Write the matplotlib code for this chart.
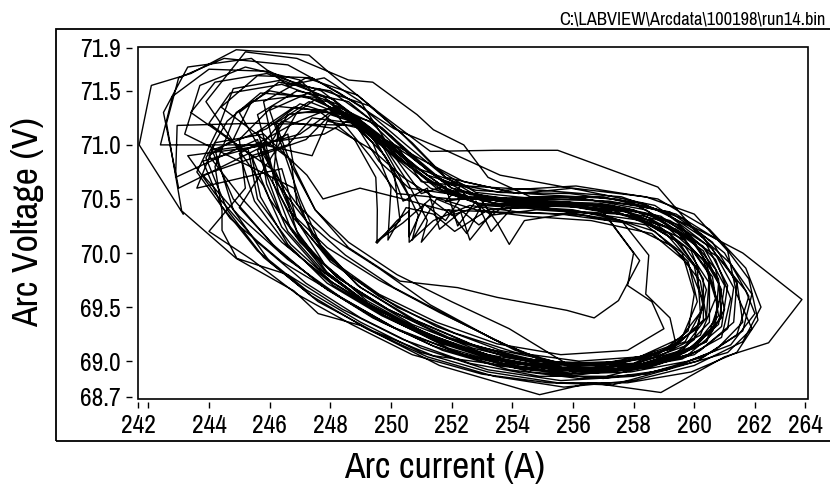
import matplotlib
matplotlib.use("Agg")
import matplotlib.pyplot as plt
from matplotlib.patches import Rectangle
from matplotlib.ticker import FixedLocator, FixedFormatter

plt.rcParams["font.family"] = ["Pragati Narrow", "Liberation Sans", "DejaVu Sans"]

# Arc current (A) / arc voltage (V) trajectory.
current_1 = [
    243.15, 241.70, 242.10, 243.40, 244.90, 247.30, 248.00, 249.60, 251.30, 253.40, 255.50, 258.80, 259.90, 261.60, 263.55, 262.45, 261.00, 258.90, 256.60, 254.90, 251.60, 249.00, 247.60, 246.80, 244.90, 243.10,
    242.60, 243.00, 244.50, 246.60, 248.30, 250.10, 251.80, 253.60, 256.30, 258.70, 260.30, 261.40, 261.60, 260.70, 259.10, 257.00, 254.60, 252.30, 250.10, 248.30, 246.40, 244.70, 243.60,
    244.30, 244.80, 246.40, 248.10, 249.60, 250.90, 252.20, 254.40, 256.90, 258.90, 260.30, 260.90, 260.60, 259.50, 257.60, 255.50, 253.40, 251.30, 249.60, 248.00, 246.90, 246.00,
    245.60, 246.80, 248.40, 249.40, 250.00, 249.90, 250.50, 251.40, 252.10, 253.20, 255.40, 257.60, 259.20, 260.10, 260.20, 259.40, 257.80, 255.70, 253.60, 251.50, 249.60, 248.00, 246.90, 246.20,
]
voltage_1 = [
    70.36, 71.00, 71.55, 71.66, 71.88, 71.83, 71.66, 71.30, 70.94, 70.95, 70.95, 70.61, 70.25, 70.00, 69.57, 69.17, 69.04, 68.71, 68.80, 68.69, 68.96, 69.33, 69.44, 69.65, 69.95, 70.39,
    71.20, 71.62, 71.80, 71.74, 71.48, 71.15, 70.95, 70.72, 70.58, 70.44, 70.14, 69.74, 69.36, 69.10, 68.92, 68.84, 68.90, 69.07, 69.31, 69.60, 69.92, 70.32, 70.75,
    71.15, 71.52, 71.60, 71.42, 71.10, 70.78, 70.52, 70.46, 70.44, 70.30, 70.02, 69.66, 69.28, 69.05, 68.93, 68.94, 69.20, 69.52, 69.86, 70.15, 70.45, 70.80,
    71.12, 71.35, 71.28, 71.02, 70.60, 70.12, 70.42, 70.36, 70.20, 70.40, 70.44, 70.40, 70.18, 69.86, 69.45, 69.16, 69.00, 68.98, 69.10, 69.32, 69.60, 69.92, 70.30, 70.75,
]

current_2 = [
    243.40, 244.20, 245.90, 247.70, 249.20, 250.60, 251.90, 253.90, 256.40, 258.40, 259.90, 260.80, 260.90, 260.00, 258.30, 256.10, 253.90, 251.80, 249.80, 248.00, 246.40, 245.10, 244.00,
    244.80, 245.40, 247.10, 248.70, 250.10, 251.30, 252.70, 254.90, 257.00, 258.20, 257.50, 256.70, 255.80, 253.50, 252.20, 250.30, 248.60, 247.50, 246.70,
    246.20, 247.30, 248.90, 250.20, 251.50, 253.00, 255.30, 257.50, 259.40, 260.80, 261.70, 262.00, 261.20, 259.80, 257.90, 255.80, 253.70, 251.70, 249.70, 247.90, 246.60, 245.70, 245.40,
    246.60, 247.40, 248.80, 249.80, 250.60, 250.60, 251.10, 251.80, 252.40, 253.30, 254.80, 256.90, 258.70, 259.80, 260.10, 259.60, 258.20, 256.20, 254.10, 252.10, 250.20, 248.60, 247.40, 246.80,
]
voltage_2 = [
    71.30, 71.58, 71.66, 71.50, 71.18, 70.84, 70.58, 70.50, 70.50, 70.40, 70.12, 69.76, 69.40, 69.12, 68.98, 68.92, 69.00, 69.18, 69.44, 69.74, 70.10, 70.50, 70.90,
    71.05, 71.40, 71.46, 71.26, 70.95, 70.66, 70.50, 70.48, 70.38, 69.93, 69.56, 69.40, 69.47, 69.59, 69.68, 69.74, 70.05, 70.40, 70.82,
    71.20, 71.40, 71.22, 70.90, 70.60, 70.44, 70.40, 70.36, 70.22, 69.96, 69.65, 69.44, 69.15, 69.00, 68.90, 68.88, 68.98, 69.16, 69.42, 69.72, 70.08, 70.52, 70.90,
    71.00, 71.25, 71.20, 70.90, 70.52, 70.15, 70.45, 70.30, 70.55, 70.35, 70.40, 70.36, 70.20, 69.92, 69.55, 69.22, 69.04, 69.00, 69.08, 69.26, 69.50, 69.80, 70.16, 70.60,
]

current_3 = [
    243.20, 243.70, 245.20, 247.00, 248.20, 249.30, 250.20, 252.00, 255.70, 258.10, 259.70, 260.70, 261.00, 260.40, 258.90, 256.80, 254.60, 252.40, 250.30, 248.40, 246.60, 245.00, 243.80,
    247.20, 248.00, 249.10, 249.90, 250.40, 251.20, 251.60, 252.30, 252.60, 253.40, 255.20, 257.40, 259.10, 260.30, 260.70, 260.20, 258.80, 256.80, 254.70, 252.60, 250.60, 248.90, 247.70, 247.00,
    246.00, 247.60, 249.30, 250.70, 251.80, 253.00, 255.10, 257.30, 259.20, 260.60, 261.30, 261.10, 260.00, 258.20, 256.00, 253.80, 251.60, 249.60, 247.90, 246.60, 245.90, 245.60,
    242.90, 242.95, 245.50, 249.05, 250.60, 251.70, 253.60, 255.90, 258.30, 259.90, 261.20, 261.90, 261.60, 260.30, 258.40, 256.20, 253.90, 251.70, 249.70, 247.90, 246.30, 245.00,
]
voltage_3 = [
    71.10, 71.55, 71.72, 71.60, 71.28, 70.90, 70.55, 70.50, 70.52, 70.44, 70.20, 69.85, 69.48, 69.18, 69.00, 68.90, 68.92, 69.06, 69.28, 69.58, 69.94, 70.34, 70.72,
    71.05, 71.28, 71.18, 70.85, 70.48, 70.60, 70.22, 70.38, 70.12, 70.40, 70.46, 70.42, 70.24, 69.94, 69.58, 69.24, 69.04, 68.96, 69.00, 69.16, 69.40, 69.70, 70.06, 70.50,
    71.32, 71.52, 71.36, 71.02, 70.70, 70.50, 70.47, 70.44, 70.30, 70.04, 69.68, 69.30, 69.06, 68.94, 68.90, 69.15, 69.45, 69.75, 70.05, 70.40, 70.75, 71.05,
    70.70, 71.18, 71.20, 71.18, 70.90, 70.66, 70.56, 70.55, 70.46, 70.24, 69.90, 69.62, 69.28, 69.04, 68.88, 68.84, 68.92, 69.10, 69.36, 69.66, 70.02, 70.42,
]

current_4 = [
    246.20, 246.90, 248.50, 249.60, 250.30, 250.90, 250.70, 251.50, 252.20, 252.90, 253.80, 255.90, 258.00, 259.60, 260.50, 260.40, 259.30, 257.50, 255.30, 253.20, 251.10, 249.20, 247.60, 246.40, 245.80,
    243.90, 245.20, 246.90, 248.60, 249.40, 250.86, 251.40, 252.40, 253.20, 254.60, 257.00, 259.00, 260.40, 261.10, 260.90, 259.80, 257.90, 255.70, 253.50, 251.40, 249.40, 247.70, 246.10, 244.80, 244.10,
    245.90, 247.00, 248.60, 250.00, 251.30, 252.90, 255.10, 257.20, 258.00, 257.80, 258.60, 259.00, 257.80, 255.60, 253.50, 251.50, 249.60, 248.00, 246.80, 246.10,
    245.00, 246.30, 248.00, 249.50, 250.80, 252.00, 253.80, 256.20, 258.50, 260.00, 260.80, 260.70, 259.70, 257.90, 255.80, 253.70, 251.40, 249.40, 247.60, 246.00, 244.80, 244.20,
]
voltage_4 = [
    70.95, 71.30, 71.30, 71.05, 70.70, 70.35, 70.12, 70.50, 70.42, 70.26, 70.45, 70.47, 70.40, 70.16, 69.80, 69.40, 69.12, 68.98, 68.96, 69.06, 69.26, 69.54, 69.86, 70.24, 70.62,
    71.40, 71.86, 71.80, 71.60, 71.58, 71.28, 71.14, 71.00, 70.70, 70.52, 70.52, 70.38, 70.08, 69.70, 69.32, 69.06, 68.92, 68.88, 68.96, 69.14, 69.40, 69.70, 70.08, 70.50, 70.95,
    71.15, 71.38, 71.24, 70.92, 70.60, 70.46, 70.42, 70.30, 70.00, 69.70, 69.55, 69.30, 69.10, 69.06, 69.16, 69.36, 69.62, 69.94, 70.32, 70.76,
    71.30, 71.58, 71.50, 71.20, 70.86, 70.60, 70.48, 70.46, 70.36, 70.10, 69.72, 69.34, 69.08, 68.94, 68.92, 68.96, 69.05, 69.28, 69.55, 69.92, 70.40, 70.95,
]

current_5 = [
    247.80, 248.70, 249.70, 250.50, 251.20, 251.00, 251.90, 252.50, 253.10, 254.50, 256.60, 258.60, 259.90, 260.40, 260.10, 258.90, 257.00, 254.90, 252.80, 250.80, 249.00, 247.70, 246.90, 246.70,
    244.40, 245.60, 247.40, 249.00, 250.50, 251.80, 253.70, 256.10, 258.80, 260.50, 261.70, 262.20, 261.60, 260.00, 258.00, 255.70, 253.40, 251.20, 249.20, 247.40, 245.80, 244.60, 243.90,
    244.60, 245.70, 247.50, 249.00, 250.40, 251.70, 253.40, 255.80, 258.00, 259.70, 260.60, 260.80, 260.00, 258.40, 256.30, 254.10, 252.00, 250.10, 248.50, 247.20, 246.20, 245.80,
    247.40, 247.90, 249.20, 250.20, 251.00, 251.80, 252.20, 252.80, 253.30, 254.00, 255.90, 258.00, 259.50, 260.30, 260.30, 259.30, 257.60, 255.40, 253.20, 251.20, 249.30, 247.80, 246.70, 246.10,
]
voltage_5 = [
    71.10, 71.24, 71.02, 70.68, 70.30, 70.10, 70.40, 70.18, 70.50, 70.44, 70.42, 70.30, 70.02, 69.66, 69.30, 69.08, 68.98, 69.00, 69.14, 69.38, 69.68, 70.04, 70.46, 70.86,
    71.35, 71.64, 71.62, 71.36, 71.00, 70.70, 70.58, 70.62, 70.50, 70.22, 69.86, 69.50, 69.18, 68.96, 68.82, 68.76, 68.86, 69.04, 69.30, 69.60, 69.96, 70.40, 70.88,
    71.22, 71.48, 71.44, 71.16, 70.84, 70.58, 70.46, 70.44, 70.34, 70.12, 69.78, 69.42, 69.14, 68.98, 68.92, 69.10, 69.40, 69.68, 69.98, 70.30, 70.66, 71.00,
    70.90, 71.22, 71.14, 70.86, 70.55, 70.62, 70.25, 70.48, 70.20, 70.42, 70.44, 70.34, 70.10, 69.76, 69.38, 69.12, 68.98, 68.94, 69.04, 69.24, 69.52, 69.84, 70.22, 70.66,
]

current_6 = [
    246.30, 247.50, 248.70, 249.60, 250.60, 252.60, 255.40, 257.70, 259.50, 260.70, 261.20, 260.90, 259.60, 257.60, 255.40, 253.30, 251.30, 249.40, 247.80, 246.60, 245.90, 245.70,
    242.40, 242.80, 244.00, 246.00, 247.80, 249.40, 250.90, 252.50, 255.00, 257.60, 259.60, 261.00, 261.80, 261.40, 260.10, 258.00, 255.60, 253.20, 251.00, 249.00, 247.20, 245.60, 244.20, 243.30,
    246.00, 246.60, 248.20, 249.40, 250.10, 250.30, 249.50, 250.40, 251.30, 252.00, 253.00, 255.00, 257.30, 259.00, 260.00, 260.30, 259.70, 258.20, 256.20, 254.00, 251.90, 249.90, 248.20, 247.00, 246.30,
    245.60, 246.90, 248.60, 250.00, 251.30, 252.60, 254.60, 256.90, 258.90, 260.30, 261.00, 260.80, 259.80, 258.10, 256.00, 253.90, 252.00, 250.20, 248.60, 247.50, 246.80, 246.60,
]
voltage_6 = [
    71.18, 71.42, 71.25, 70.85, 70.60, 70.52, 70.48, 70.42, 70.26, 69.94, 69.58, 69.22, 69.02, 68.92, 68.92, 69.02, 69.22, 69.50, 69.82, 70.20, 70.64, 71.00,
    71.00, 71.45, 71.70, 71.68, 71.44, 71.10, 70.78, 70.62, 70.58, 70.52, 70.32, 70.00, 69.60, 69.24, 69.00, 68.86, 68.82, 68.92, 69.12, 69.40, 69.72, 70.10, 70.55, 70.90,
    71.00, 71.28, 71.34, 71.08, 70.75, 70.30, 70.10, 70.28, 70.50, 70.35, 70.44, 70.46, 70.40, 70.20, 69.88, 69.50, 69.18, 69.02, 68.96, 69.04, 69.22, 69.48, 69.78, 70.14, 70.56,
    71.28, 71.50, 71.40, 71.08, 70.74, 70.54, 70.48, 70.46, 70.34, 70.06, 69.70, 69.34, 69.10, 68.96, 68.94, 69.30, 69.55, 69.80, 70.10, 70.40, 70.80, 71.10,
]

current_7 = [
    243.00, 242.50, 243.30, 245.40, 246.60, 247.80, 249.00, 249.80, 251.10, 252.40, 254.20, 256.00, 258.40, 260.00, 261.10, 261.40, 261.90, 261.10, 259.60, 257.30, 255.20, 253.00, 250.70, 248.70, 246.90, 245.40, 244.00,
    245.20, 245.00, 246.10, 247.60, 248.80, 249.50, 249.55, 249.54, 250.20, 250.60, 250.60, 251.40, 252.60, 254.20, 256.40, 258.40, 259.60, 260.00, 259.80, 258.80, 257.00, 254.80, 252.70, 250.70, 249.00, 247.50, 246.40,
    245.60, 246.40, 248.20, 249.40, 250.40, 251.40, 252.80, 254.50, 256.60, 258.60, 259.80, 260.30, 260.00, 258.90, 257.10, 254.90, 252.60, 250.40, 248.40, 246.60, 244.92, 244.43, 244.43, 244.20,
    244.90, 246.00, 247.90, 249.40, 250.70, 252.00, 253.80, 256.00, 257.60, 258.50, 258.40, 259.20, 259.40, 258.00, 256.00, 253.80, 251.80, 249.90, 248.30, 247.00, 246.00, 245.40,
]
voltage_7 = [
    70.60, 71.30, 71.72, 71.80, 71.55, 71.62, 71.40, 71.05, 70.85, 70.66, 70.55, 70.60, 70.52, 70.36, 70.02, 69.62, 69.30, 69.08, 68.96, 68.78, 68.80, 68.88, 69.06, 69.34, 69.62, 69.94, 70.20,
    70.60, 71.05, 71.36, 71.32, 71.05, 70.70, 70.40, 70.09, 70.30, 70.39, 70.10, 70.30, 70.44, 70.38, 70.35, 70.26, 70.00, 69.62, 69.28, 69.06, 68.96, 68.98, 69.12, 69.34, 69.62, 69.96, 70.34,
    70.95, 71.22, 71.15, 70.95, 70.70, 70.52, 70.40, 70.34, 70.30, 70.18, 69.90, 69.55, 69.20, 68.98, 68.86, 68.86, 68.98, 69.20, 69.48, 69.80, 69.95, 70.21, 70.39, 70.80,
    71.30, 71.50, 71.40, 71.10, 70.78, 70.55, 70.44, 70.40, 70.30, 69.98, 69.62, 69.40, 69.15, 68.98, 68.96, 69.04, 69.22, 69.48, 69.76, 70.10, 70.50, 70.90,
]

current_8 = [
    244.00, 244.70, 246.40, 248.20, 249.80, 251.20, 252.80, 255.00, 257.40, 259.40, 260.90, 261.80, 262.10, 261.40, 259.90, 257.80, 255.50, 253.20, 251.00, 249.00, 247.20, 245.60, 244.40, 243.80,
    247.00, 248.10, 249.30, 250.30, 251.00, 252.30, 251.80, 252.90, 253.50, 253.90, 254.40, 256.20, 258.30, 259.70, 260.50, 260.50, 259.60, 257.80, 255.60, 253.40, 251.30, 249.40, 247.90, 246.90, 246.40,
    245.80, 247.20, 248.90, 250.30, 251.50, 252.80, 254.80, 257.20, 259.20, 260.60, 261.40, 261.30, 260.20, 258.50, 256.30, 254.10, 251.90, 249.90, 248.10, 246.60, 245.50, 245.00,
    246.80, 248.20, 249.70, 250.90, 252.00, 253.50, 255.60, 257.80, 259.40, 260.40, 260.80, 260.40, 259.10, 257.20, 255.10, 253.00, 251.00, 249.20, 247.80, 246.90, 246.40,
    243.60, 244.20, 245.80, 247.23, 247.76, 248.98, 250.40, 251.70, 253.40, 255.60, 257.70, 259.30, 260.20, 260.40, 259.70, 258.10, 256.10, 253.90, 251.80, 249.80, 248.10, 246.70, 245.60, 245.30,
]
voltage_8 = [
    71.20, 71.48, 71.56, 71.38, 71.04, 70.72, 70.58, 70.54, 70.50, 70.36, 70.10, 69.76, 69.38, 69.08, 68.90, 68.80, 68.80, 68.90, 69.08, 69.36, 69.66, 70.02, 70.44, 70.85,
    71.10, 71.32, 71.22, 70.95, 70.66, 70.62, 70.48, 70.52, 70.28, 70.08, 70.30, 70.38, 70.30, 70.06, 69.72, 69.36, 69.10, 68.96, 68.92, 69.02, 69.22, 69.50, 69.82, 70.20, 70.64,
    71.40, 71.62, 71.46, 71.12, 70.78, 70.56, 70.50, 70.48, 70.38, 70.10, 69.72, 69.36, 69.10, 68.94, 68.88, 68.94, 69.12, 69.40, 69.70, 70.06, 70.48, 70.92,
    71.20, 71.36, 71.16, 70.86, 70.60, 70.48, 70.44, 70.38, 70.20, 69.90, 69.52, 69.18, 69.00, 68.92, 68.94, 69.06, 69.28, 69.56, 69.90, 70.30, 70.78,
    70.60, 71.02, 71.10, 70.72, 70.50, 70.60, 70.50, 70.40, 70.38, 70.36, 70.28, 70.06, 69.74, 69.40, 69.14, 68.98, 68.92, 68.98, 69.16, 69.42, 69.72, 70.08, 70.50, 70.95,
]

x_ticks = [241.66, 242, 244, 246, 248, 250, 252, 254, 256, 258, 260, 262, 263.65]
x_tick_labels = ["242", "", "244", "246", "248", "250", "252", "254", "256", "258", "260", "262", "264"]
y_ticks = [68.67, 69.0, 69.5, 70.0, 70.5, 71.0, 71.5, 71.9]
y_tick_labels = ["68.7", "69.0", "69.5", "70.0", "70.5", "71.0", "71.5", "71.9"]
file_name = r"C:\LABVIEW\Arcdata\100198\run14.bin"

current = current_1 + current_2 + current_3 + current_4 + current_5 + current_6 + current_7 + current_8
voltage = voltage_1 + voltage_2 + voltage_3 + voltage_4 + voltage_5 + voltage_6 + voltage_7 + voltage_8
assert len(current) == len(voltage)

W, H = 830, 487
fig = plt.figure(figsize=(W / 100, H / 100), dpi=100)
ax = fig.add_axes([138 / W, 1 - 399 / H, (808 - 138) / W, (399 - 46.5) / H])
ax.plot(current, voltage, color="black", linewidth=1.0)
ax.set_xlim(241.66, 263.75)
ax.set_ylim(68.65, 71.91)

ax.xaxis.set_major_locator(FixedLocator(x_ticks))
ax.xaxis.set_major_formatter(FixedFormatter(x_tick_labels))
ax.yaxis.set_major_locator(FixedLocator(y_ticks))
ax.yaxis.set_major_formatter(FixedFormatter(y_tick_labels))
ax.tick_params(axis="both", direction="out", width=1.0, labelsize=20, pad=4)
ax.tick_params(axis="y", length=4)
ax.tick_params(axis="x", length=4.5)

# ticks sit a few pixels away from the plot box
ax.spines["left"].set_position(("outward", 4.3))
ax.spines["bottom"].set_position(("outward", 2.2))
for side in ax.spines.values():
    side.set_color("none")
ax.add_patch(Rectangle((0, 0), 1, 1, transform=ax.transAxes, fill=False,
                       edgecolor="black", linewidth=1.2, clip_on=False))

# outer frame around the whole graph
fig.add_artist(Rectangle((56 / W, 1 - 441 / H), (840 - 56) / W, (441 - 29) / H,
                         transform=fig.transFigure, fill=False, edgecolor="black", linewidth=1.3))

fig.text(445 / W, 1 - 467 / H, "Arc current (A)", ha="center", va="center", fontsize=29.5)
fig.text(28 / W, 1 - 222 / H, "Arc Voltage (V)", ha="center", va="center", rotation=90, fontsize=29.5)
fig.text(826 / W, 1 - 25 / H, file_name, ha="right", va="baseline", fontsize=14.5)

fig.savefig("out.png", dpi=100)
